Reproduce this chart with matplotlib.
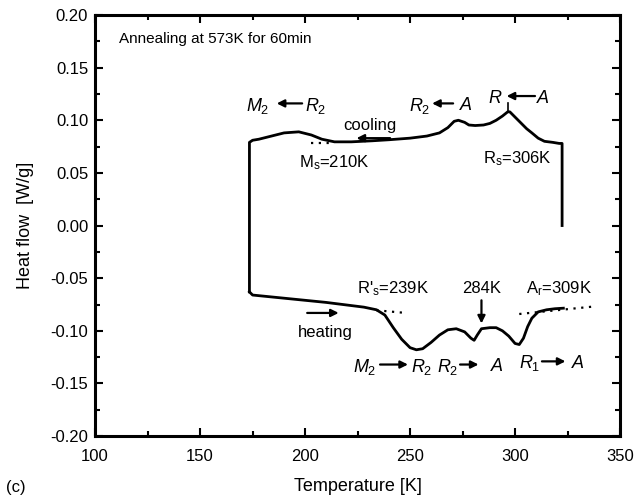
import numpy as np
import matplotlib
matplotlib.use("Agg")
import matplotlib.pyplot as plt
from matplotlib.ticker import MultipleLocator

plt.rcParams["font.family"] = ["Liberation Sans", "DejaVu Sans"]
plt.rcParams["mathtext.fontset"] = "custom"
plt.rcParams["mathtext.rm"] = "Liberation Sans"
plt.rcParams["mathtext.it"] = "Liberation Sans:italic"

# cooling run (right vertical start, then leftwards, then left vertical drop)
cool_T = [322.4, 322.4, 321, 318, 314, 311, 308, 305.5, 303, 300, 297.5, 296.5,
          294, 291, 288, 285, 281, 278, 276, 273, 271, 268, 264, 258, 250, 240,
          232, 222, 214, 208, 203, 197, 190, 184, 178, 175, 173.5, 173.5]
cool_Q = [0.000, 0.078, 0.078, 0.079, 0.080, 0.083, 0.088, 0.092, 0.097, 0.103, 0.108, 0.108,
          0.104, 0.100, 0.097, 0.0955, 0.095, 0.0955, 0.098, 0.100, 0.099, 0.093, 0.088, 0.085,
          0.083, 0.0815, 0.0805, 0.0795, 0.0795, 0.082, 0.086, 0.089, 0.088, 0.085, 0.082,
          0.081, 0.079, -0.063]

# heating run
heat_T = [173.5, 175, 180, 190, 200, 210, 220, 228, 234, 238, 242, 246, 250, 253, 256,
          260, 264, 268, 272, 276, 279, 280.5, 282, 284, 288, 291, 294, 297, 300, 302,
          304, 306, 308, 311, 315, 319, 323]
heat_Q = [-0.063, -0.066, -0.067, -0.069, -0.071, -0.073, -0.0755, -0.0775, -0.080, -0.085,
          -0.097, -0.108, -0.116, -0.118, -0.117, -0.111, -0.104, -0.099, -0.098, -0.101,
          -0.107, -0.109, -0.104, -0.098, -0.097, -0.097, -0.100, -0.105, -0.112, -0.113,
          -0.107, -0.096, -0.088, -0.082, -0.080, -0.079, -0.0785]

# dotted baselines used for onset temperatures
base_cool_T = [203, 214]
base_cool_Q = [0.0785, 0.0785]
base_heat_left_T = [234, 248]
base_heat_left_Q = [-0.0805, -0.083]
base_heat_right_T = [302, 337]
base_heat_right_Q = [-0.084, -0.077]

fig = plt.figure(figsize=(6.34, 4.99), dpi=100)
ax = fig.add_axes([0.150, 0.126, 0.828, 0.844])

ax.plot(cool_T, cool_Q, color="k", lw=2.0, solid_joinstyle="round")
ax.plot(heat_T, heat_Q, color="k", lw=2.0, solid_joinstyle="round")
for bt, bq in [(base_cool_T, base_cool_Q), (base_heat_left_T, base_heat_left_Q),
               (base_heat_right_T, base_heat_right_Q)]:
    ax.plot(bt, bq, color="k", lw=1.6, ls=(0, (1, 2.5)))

# small mark on top of R peak
ax.plot([296.8, 296.8], [0.108, 0.116], color="k", lw=1.2)

ax.set_xlim(100, 350)
ax.set_ylim(-0.20, 0.20)
ax.xaxis.set_major_locator(MultipleLocator(50))
ax.xaxis.set_minor_locator(MultipleLocator(25))
ax.yaxis.set_major_locator(MultipleLocator(0.05))
ax.yaxis.set_minor_locator(MultipleLocator(0.025))
ax.yaxis.set_major_formatter(plt.FuncFormatter(lambda v, p: f"{v:.2f}"))
ax.tick_params(which="both", direction="in", top=True, right=True, labelsize=12, width=1.5)
ax.tick_params(axis="x", pad=9)
ax.tick_params(axis="y", pad=5)
ax.tick_params(which="major", length=6)
ax.tick_params(which="minor", length=3.5)
for s in ax.spines.values():
    s.set_linewidth(2.2)

ax.set_xlabel("Temperature [K]", fontsize=13, labelpad=10)
ax.set_ylabel("Heat flow  [W/g]", fontsize=13, labelpad=12)
fig.text(0.010, 0.014, "(c)", fontsize=12)

ax.text(111.5, 0.177, "Annealing at 573K for 60min", fontsize=11, va="center")

arw = dict(arrowstyle="-|>", color="k", lw=1.6, mutation_scale=11, shrinkA=0, shrinkB=0)


def phase_label(left, right, x_left, x_from, x_to, x_right, y):
    ax.text(x_left, y, left, fontsize=13, ha="center", va="center")
    ax.text(x_right, y, right, fontsize=13, ha="center", va="center")
    ax.annotate("", xy=(x_to, y + 0.002), xytext=(x_from, y + 0.002), arrowprops=arw)


# cooling side
phase_label("$M_2$", "$R_2$", 177.6, 198.6, 186.5, 205.0, 0.114)
phase_label("$R_2$", "$A$", 254.8, 270.5, 260.5, 276.5, 0.114)
phase_label("$R$", "$A$", 290.5, 309.5, 296.0, 313.5, 0.121)
ax.text(231, 0.095, "cooling", fontsize=12, ha="center", va="center")
ax.annotate("", xy=(224.5, 0.083), xytext=(240.5, 0.083), arrowprops=arw)
ax.text(214, 0.060, "M$_\\mathrm{s}$=210K", fontsize=12, ha="center", va="center")
ax.text(301, 0.064, "R$_\\mathrm{s}$=306K", fontsize=12, ha="center", va="center")

# heating side
ax.text(209.5, -0.102, "heating", fontsize=12, ha="center", va="center")
ax.annotate("", xy=(216, -0.083), xytext=(201, -0.083), arrowprops=arw)
ax.text(242, -0.060, "R$'_\\mathrm{s}$=239K", fontsize=12, ha="center", va="center")
ax.text(321, -0.060, "A$_\\mathrm{r}$=309K", fontsize=12, ha="center", va="center")
ax.text(284, -0.060, "284K", fontsize=12, ha="center", va="center")
ax.annotate("", xy=(284, -0.093), xytext=(284, -0.071), arrowprops=arw)
phase_label("$M_2$", "$R_2$", 228.6, 235.7, 249.0, 255.7, -0.134)
phase_label("$R_2$", "$A$", 268.0, 273.8, 282.6, 291.4, -0.134)
phase_label("$R_1$", "$A$", 307.0, 312.8, 324.0, 330.0, -0.131)

fig.savefig("out.png", dpi=100)
